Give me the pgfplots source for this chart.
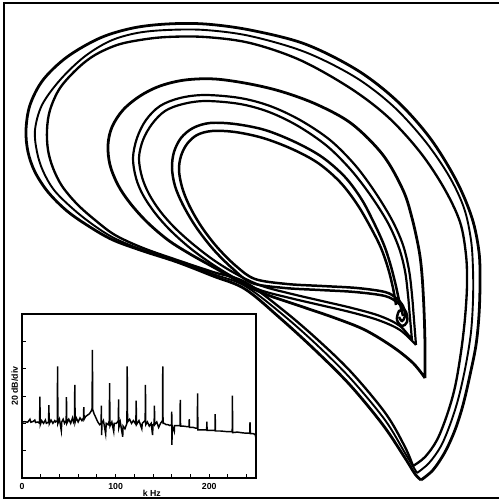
\documentclass[border=0pt]{standalone}
\usepackage{pgfplots}
\pgfplotsset{compat=1.18}
\usepackage{fontspec}
\setmainfont{Liberation Sans}
\begin{document}
\begin{tikzpicture}
\useasboundingbox (0,0) rectangle (12cm,12.048cm);
\begin{axis}[at={(0,0)}, anchor=south west, scale only axis, width=12cm, height=12.048cm,
  xmin=0, xmax=499, ymin=0, ymax=501, y dir=reverse, hide axis, clip=false]
% frame
\addplot[black, line width=1.3pt] coordinates {(499,3)(4,3)(4,498)(499,498)};
% outer band, strand 1
\addplot[black, line width=1.9pt, smooth, tension=0.55] coordinates {
(421,480)(433,470)(445,452)(455,430)(463,405)(470,375)(476,345)(479,315)(480,283)(479,252)(472,218)(456,180)(430,138)(397,101)(357,70)(305,44)(250,30)(205,24)(167,24)(133,28)(100,38)(67,57)(43,80)(30,105)(26,130)(28,152)(35,172)(48,192)(67,211)(90,227)(113,240)(143,251)(177,262)(213,276)(245,289)(280,318)(315,350)(350,385)(383,425)(405,458)(415,474)(421,480)};
% outer band, strand 2
\addplot[black, line width=1.3pt, smooth, tension=0.55] coordinates {
(417,473)(429,463)(441,446)(451,422)(459,396)(466,364)(471,332)(473,300)(473,270)(471,240)(464,208)(449,176)(425,141)(393,106)(355,77)(305,52)(250,36)(205,30)(167,30)(137,33)(110,41)(84,57)(60,80)(42,105)(35,130)(37,152)(43,171)(54,190)(72,208)(92,224)(114,238)(143,250)(177,261)(213,274)(245,286)(282,314)(317,345)(351,379)(385,420)(405,453)(417,473)};
% outer band, strand 3
\addplot[black, line width=1.6pt, smooth, tension=0.55] coordinates {
(413,466)(425,457)(437,440)(447,415)(455,387)(461,352)(465,318)(467,285)(466,255)(460,222)(444,188)(420,152)(388,117)(350,88)(300,60)(250,43)(205,37)(167,37)(140,40)(117,45)(95,55)(78,68)(60,88)(50,110)(47,130)(48,150)(53,168)(62,186)(77,204)(95,220)(115,235)(143,248)(177,260)(213,272)(245,282)(283,310)(318,340)(352,373)(386,414)(405,447)(413,466)};
% loop 2
\addplot[black, line width=1.9pt, smooth, tension=0.55] coordinates {
(425,378)(425,345)(424,310)(422,275)(419,250)(412,218)(403,190)(383,155)(352,124)(318,105)(283,92)(250,84)(215,79)(185,80)(160,86)(140,96)(123,110)(112,127)(108,145)(110,165)(118,185)(130,203)(147,222)(168,240)(190,254)(215,268)(240,282)(265,294)(300,306)(335,318)(365,330)(393,347)(413,363)(425,378)};
% loop 3 pair
\addplot[black, line width=1.5pt, smooth, tension=0.55] coordinates {
(416,345)(414,320)(412,295)(409,270)(403,245)(392,220)(375,192)(355,165)(330,140)(300,120)(270,106)(240,98)(205,95)(180,98)(160,106)(146,120)(137,138)(133,158)(136,178)(143,195)(155,213)(170,230)(190,248)(212,264)(235,278)(260,290)(290,298)(320,305)(350,312)(378,320)(400,330)(416,345)};
\addplot[black, line width=1.5pt, smooth, tension=0.55] coordinates {
(412,340)(410,318)(408,295)(405,271)(399,248)(388,223)(371,196)(351,170)(327,146)(298,126)(269,112)(240,104)(206,101)(183,104)(165,111)(152,124)(143,140)(139,158)(142,177)(149,194)(160,211)(175,228)(194,245)(215,261)(238,275)(262,286)(292,294)(322,301)(352,308)(380,316)(400,326)(412,340)};
% loop 4 pair (innermost, with small spiral)
\addplot[black, line width=1.7pt, smooth, tension=0.55] coordinates {
(403,316)(399,300)(395,282)(390,263)(384,245)(375,225)(362,200)(345,177)(322,157)(295,142)(265,130)(235,124)(210,123)(193,128)(181,138)(174,152)(172,168)(175,186)(183,205)(196,227)(213,249)(232,268)(252,283)(285,288)(320,290)(355,292)(385,296)(398,303)(406,312)(407,322)(402,326)(397,320)(399,311)(404,310)};
\addplot[black, line width=1.7pt, smooth, tension=0.55] coordinates {
(396,305)(393,288)(388,268)(381,248)(371,228)(357,204)(340,182)(318,163)(292,149)(263,138)(235,132)(212,131)(197,135)(187,144)(181,156)(179,170)(182,187)(189,205)(201,226)(217,247)(236,266)(255,279)(287,284)(322,286)(357,288)(385,292)(396,298)(403,306)(405,316)(402,321)(399,317)};
\end{axis}
\begin{axis}[at={(0.529cm,0.553cm)}, anchor=south west, scale only axis,
  width=5.627cm, height=3.944cm, xmin=0, xmax=250, ymin=0, ymax=6,
  xtick={0,100,200}, minor xtick={20,40,60,80,120,140,160,180,220,240},
  ytick={1,2,3,4,5}, yticklabels={},
  xtick pos=bottom, ytick pos=left, tick align=inside,
  major tick length=3pt, minor tick length=3pt,
  axis line style={line width=1pt}, tick style={black, line width=0.6pt},
  axis background/.style={fill=white},
  xlabel={k Hz}, ylabel={20 dB/div},
  label style={font=\bfseries\fontsize{6}{7}\selectfont},
  ticklabel style={font=\bfseries\fontsize{6}{7}\selectfont},
  /pgf/number format/assume math mode=true,
  xlabel style={at={(axis description cs:0.555,0)}, anchor=north, inner sep=0pt, yshift=-7.8pt},
  ylabel style={at={(axis description cs:0,0.56)}, anchor=south, inner sep=2.5pt}]
\addplot[black, line width=1pt] coordinates {
(0,2.05)(3,2.06)(6,2.04)(8.5,2.15)(9.5,2.04)(12,2.07)(13.7,2.12)(14.5,2.03)(17,2.05)
(18.8,2.0)(19.1,2.98)(19.5,1.95)(21,2.1)(23,2.0)(25,2.12)(26,2.0)
(28.4,2.05)(28.7,2.67)(29.1,1.98)(31,2.12)(33,2.0)(35,2.1)(36,2.05)
(37.7,2.1)(38,4.08)(38.4,2.0)(40,2.15)(42,1.73)(42.5,2.05)(44,2.15)(45.5,2.0)
(47.2,2.1)(47.5,2.96)(47.9,2.0)(50,2.15)(52,2.0)(54,2.2)(55,2.05)
(56.1,2.15)(56.4,3.41)(56.8,2.05)(58,2.2)(60,2.05)(62,2.2)(64,2.1)
(65.7,2.2)(66,2.59)(66.4,2.15)(68,2.25)(70,2.3)(72,2.35)(74,2.45)
(74.9,2.55)(75.2,4.69)(75.6,2.5)(77,2.35)(79,2.2)(81,2.05)(83,1.95)
(84.5,2.0)(84.8,2.65)(85.1,1.57)(85.4,2.0)(87,2.1)(89.4,1.61)(90,2.0)(92,1.95)
(93.3,2.1)(93.6,3.47)(94,1.9)(96,2.05)(98,1.70)(98.5,2.0)(101,2.0)
(102.9,2.1)(103.2,2.88)(103.5,1.85)(105,2.05)(107.6,1.51)(108,1.9)(110,1.8)
(112.1,2.0)(112.4,4.08)(112.8,2.05)(115,2.15)(117,2.0)(119,2.1)(121,2.0)
(121.7,2.1)(122,2.83)(122.3,1.95)(125,2.1)(128,1.8)(128.5,2.0)(130,2.05)
(131.6,2.1)(131.9,3.41)(132.2,1.95)(134,2.05)(136,1.9)(138,2.0)(139.5,1.57)(140,1.95)
(141.2,2.0)(141.5,2.65)(141.8,1.95)(144,2.05)(146,1.85)(148,2.0)
(150.1,2.1)(150.4,4.08)(150.7,2.0)(152,2.0)(154,1.95)(156,1.95)(158,1.92)
(159.7,1.95)(160,2.43)(160.2,1.21)(160.5,1.92)(162.7,1.70)(163,1.92)(166,1.92)
(168.8,1.92)(169.1,2.86)(169.4,1.9)(172,1.9)(176,1.88)
(178.5,1.88)(178.7,2.15)(179,1.85)(183,1.85)(186,1.82)
(187.3,1.82)(187.6,3.10)(187.9,1.76)(190,1.76)(194,1.76)(197.3,1.76)(197.5,2.06)(197.8,1.74)
(202,1.74)(206.2,1.74)(206.4,2.34)(206.7,1.72)(212,1.72)(218,1.7)(222,1.7)
(224.6,1.7)(224.8,3.01)(225.1,1.66)(230,1.68)(236,1.65)(240,1.64)
(243.4,1.64)(243.6,2.04)(244,1.62)(247,1.62)(249,1.6)(250,1.45)};
\end{axis}
\end{tikzpicture}
\end{document}
